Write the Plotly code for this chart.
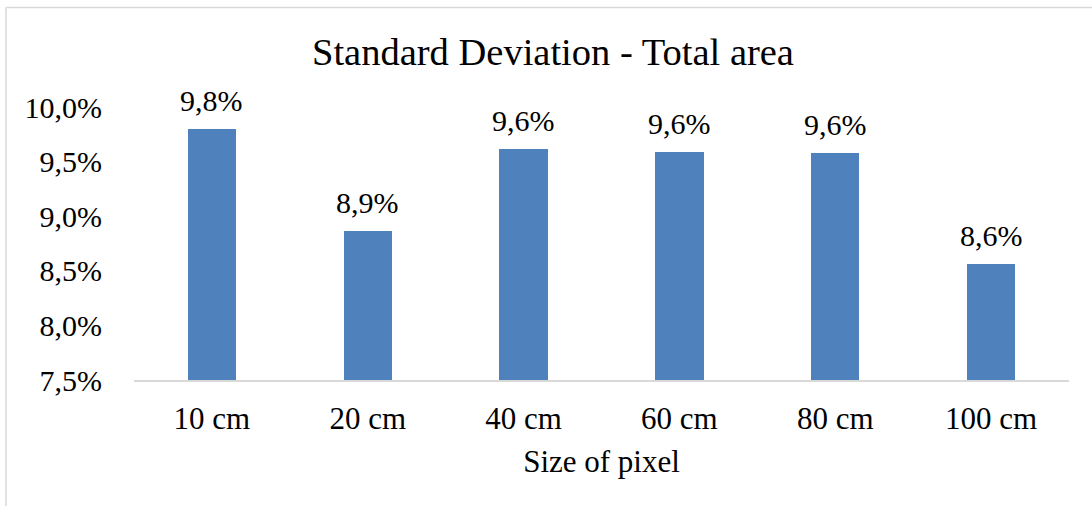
import plotly.graph_objects as go

# Pixel size categories and standard deviation of total area (%)
categories = ["10 cm", "20 cm", "40 cm", "60 cm", "80 cm", "100 cm"]
std_dev = [9.80, 8.86, 9.62, 9.59, 9.58, 8.56]
tick_vals = [7.5, 8.0, 8.5, 9.0, 9.5, 10.0]
tick_text = ["7,5%", "8,0%", "8,5%", "9,0%", "9,5%", "10,0%"]

FONT = "Liberation Serif"
BAR_COLOR = "#4F81BD"

W, H = 1092, 506
M = dict(l=134, r=23, t=107, b=126)

fig = go.Figure()
fig.add_trace(go.Bar(
    x=categories,
    y=[v - 7.5 for v in std_dev],
    base=7.5,
    marker=dict(color=BAR_COLOR, line=dict(width=0)),
    width=0.31,
    hoverinfo="skip",
))

# Value labels above each bar
for c, v in zip(categories, std_dev):
    fig.add_annotation(
        x=c, y=v, text=f"{v:.1f}%".replace(".", ","),
        showarrow=False, yanchor="bottom", yshift=10,
        font=dict(family=FONT, size=30, color="#000000"),
    )

# Chart frame (top and left edges)
pw = W - M["l"] - M["r"]
ph = H - M["t"] - M["b"]
fx0 = (6 - M["l"]) / pw
fy1 = 1 + (M["t"] - 7.5) / ph
fy0 = -(M["b"]) / ph - 0.01
fig.add_shape(type="line", xref="paper", yref="paper",
              x0=fx0, x1=2, y0=fy1, y1=fy1,
              line=dict(color="#D9D9D9", width=1.5))
fig.add_shape(type="line", xref="paper", yref="paper",
              x0=fx0, x1=fx0, y0=fy0, y1=fy1,
              line=dict(color="#D9D9D9", width=1.5))

fig.update_layout(
    width=W, height=H,
    margin=M,
    paper_bgcolor="white",
    plot_bgcolor="white",
    showlegend=False,
    font=dict(family=FONT, color="#000000"),
    title=dict(
        text="Standard Deviation - Total area",
        x=553 / W, xanchor="center",
        y=1 - 52 / H, yanchor="middle",
        font=dict(family=FONT, size=38.5, color="#000000"),
    ),
    xaxis=dict(
        showgrid=False, showline=True, linecolor="#D9D9D9", linewidth=1.5,
        ticks="", tickfont=dict(family=FONT, size=31, color="#000000"),
        ticklabelstandoff=10,
        title=dict(text="Size of pixel", font=dict(family=FONT, size=31, color="#000000"),
                   standoff=15),
    ),
    yaxis=dict(
        range=[7.5, 10.0], showgrid=False, showline=False, zeroline=False,
        tickvals=tick_vals, ticktext=tick_text, ticks="",
        tickfont=dict(family=FONT, size=30, color="#000000"),
        ticklabelstandoff=31,
    ),
    bargap=0.0,
)

fig.write_html("out.html")
